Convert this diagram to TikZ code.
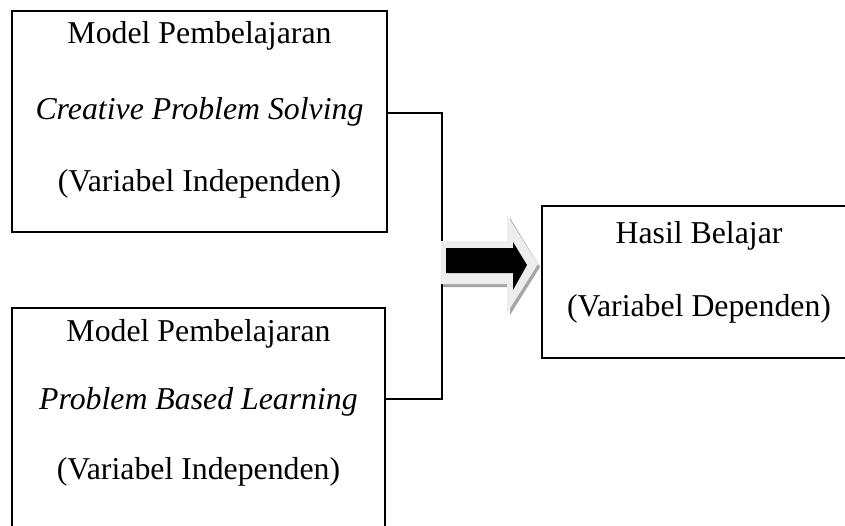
\documentclass[tikz,border=0pt]{standalone}
\usepackage{fontspec}
\setmainfont{Liberation Serif}
\begin{document}
\begin{tikzpicture}[x=0.5pt,y=-0.5pt,
  box/.style={draw=black,line width=1.1pt,rectangle,inner sep=0pt},
  txt/.style={anchor=base,inner sep=0pt,font=\fontsize{15.9pt}{18pt}\selectfont},
  conn/.style={draw=black,line width=1pt}]
\useasboundingbox (0,0) rectangle (845,525);
\clip (0,0) rectangle (845,525);
\fill[white] (0,0) rectangle (845,525);
% boxes
\node[box,minimum width=187.5pt,minimum height=110.5pt] (box1) at (199.5,121.5) {};
\node[box,minimum width=186.5pt,minimum height=111pt] (box2) at (198.5,419) {};
\node[box,minimum width=157pt,minimum height=76pt] (box3) at (699,282) {};
% texts
\node[txt] (t11) at (199.5,43) {Model Pembelajaran};
\node[txt] (t12) at (199.5,119) {\itshape Creative Problem Solving};
\node[txt] (t13) at (199.5,191) {(Variabel Independen)};
\node[txt] (t21) at (198.5,341) {Model Pembelajaran};
\node[txt] (t22) at (198.5,409) {\itshape Problem Based Learning};
\node[txt] (t23) at (198.5,479) {(Variabel Independen)};
\node[txt] (t31) at (699,243) {Hasil Belajar};
\node[txt] (t32) at (699,316) {(Variabel Dependen)};
% connectors
\coordinate (j1) at (442,113);
\coordinate (j2) at (442,399);
\draw[conn] (box1.east |- j1) -- (j1) -- (j2) -- (box2.east |- j2);
% block arrow: shadow, light outline, black inner
\fill[black!35] (443,244) -- (510,244) -- (510,218) -- (540,267) -- (510,315) -- (510,287) -- (443,287) -- cycle;
\fill[black!7] (441,241) -- (507,241) -- (507,215) -- (538,264) -- (507,313) -- (507,284) -- (441,284) -- cycle;
\fill[black] (446,248) -- (513,248) -- (513,242) -- (527,265) -- (513,290) -- (513,273) -- (446,273) -- cycle;
\end{tikzpicture}
\end{document}
